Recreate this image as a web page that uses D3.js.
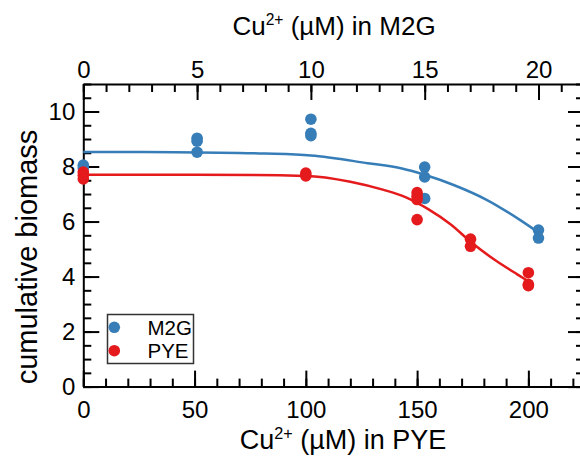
<!DOCTYPE html>
<html>
<head>
<meta charset="utf-8">
<script src="https://cdn.jsdelivr.net/npm/d3@7"></script>
<style>
  html, body { margin: 0; padding: 0; background: #fff; }
  svg { display: block; font-family: "Liberation Sans", Arial, sans-serif; }
</style>
</head>
<body>
<svg id="chart" width="580" height="460"></svg>
<script>
// Cumulative biomass versus copper concentration in two media.
// M2G values sit on the top axis, PYE values on the bottom axis.

// M2G measurements (Cu2+ in µM, top axis)
const m2gConc    = [0, 0, 5, 5, 5, 10, 10, 10, 15, 15, 15, 20, 20];
const m2gBiomass = [8.05, 7.95, 9.03, 8.92, 8.52, 9.72, 9.21, 9.12, 7.98, 7.62, 6.84, 5.69, 5.40];

// PYE measurements (Cu2+ in µM, bottom axis)
const pyeConc    = [0, 0, 0, 100, 100, 150, 150, 150, 150, 174, 174, 200, 200, 200];
const pyeBiomass = [7.80, 7.68, 7.55, 7.76, 7.66, 7.05, 6.92, 6.80, 6.07, 5.36, 5.10, 4.14, 3.72, 3.67];

// Fitted dose-response curves
const m2gFitConc    = [0, 4, 8, 10, 12.5, 14, 15, 16.3, 17.7, 19.2, 20];
const m2gFitBiomass = [8.53, 8.52, 8.47, 8.40, 8.12, 7.93, 7.70, 7.32, 6.80, 6.05, 5.60];
const pyeFitConc    = [0, 50, 100, 120, 135, 145, 155, 165, 175, 185, 195, 200];
const pyeFitBiomass = [7.70, 7.70, 7.66, 7.45, 7.15, 6.88, 6.45, 5.90, 5.20, 4.60, 4.08, 3.83];

// Axis ticks
const pyeMajorTicks = [0, 50, 100, 150, 200];
const pyeMinorTicks = d3.range(0, 230, 10);
const m2gMajorTicks = [0, 5, 10, 15, 20];
const m2gMinorTicks = d3.range(0, 23, 1);
const yMajorTicks   = [0, 2, 4, 6, 8, 10];
const yMinorTicks   = d3.range(0, 11.01, 0.5);

const seriesNames  = ["M2G", "PYE"];
const seriesColors = ["#377eb8", "#e41a1c"];

const svg = d3.select("#chart");
const plotLeft = 83.3, plotRight = 584, plotTop = 84, plotBottom = 386.6;

const xPye = d3.scaleLinear().domain([0, 225]).range([plotLeft, plotRight]);
const xM2g = d3.scaleLinear().domain([0, 22]).range([plotLeft, plotRight]);
const y    = d3.scaleLinear().domain([0, 11]).range([plotBottom, plotTop]);

const tickFont = 24;

function styleAxis(g) {
  g.selectAll("path.domain").attr("stroke", "#000").attr("stroke-width", 2);
  g.selectAll(".tick line").attr("stroke", "#000").attr("stroke-width", 2);
  g.selectAll(".tick text").attr("fill", "#000").attr("font-size", tickFont)
    .attr("font-family", "Liberation Sans, Arial, sans-serif");
}

// Minor ticks (drawn first, without domain lines)
const minorLen = 8;
svg.append("g").attr("transform", `translate(0,${plotBottom})`)
  .call(d3.axisBottom(xPye).tickValues(pyeMinorTicks).tickSize(-minorLen).tickFormat(""))
  .call(styleAxis).call(g => g.select(".domain").remove());
svg.append("g").attr("transform", `translate(0,${plotTop})`)
  .call(d3.axisTop(xM2g).tickValues(m2gMinorTicks).tickSize(-minorLen).tickFormat(""))
  .call(styleAxis).call(g => g.select(".domain").remove());
svg.append("g").attr("transform", `translate(${plotLeft},0)`)
  .call(d3.axisLeft(y).tickValues(yMinorTicks).tickSize(-minorLen).tickFormat(""))
  .call(styleAxis).call(g => g.select(".domain").remove());
svg.append("g").attr("transform", `translate(${plotRight},0)`)
  .call(d3.axisRight(y).tickValues(yMinorTicks).tickSize(-minorLen).tickFormat(""))
  .call(styleAxis).call(g => g.select(".domain").remove());

// Major ticks with labels and the frame
const majorLen = 16;
svg.append("g").attr("transform", `translate(0,${plotBottom})`)
  .call(d3.axisBottom(xPye).tickValues(pyeMajorTicks).tickSizeInner(-majorLen).tickSizeOuter(0).tickPadding(14))
  .call(styleAxis);
svg.append("g").attr("transform", `translate(0,${plotTop})`)
  .call(d3.axisTop(xM2g).tickValues(m2gMajorTicks).tickSizeInner(-majorLen).tickSizeOuter(0).tickPadding(6))
  .call(styleAxis);
svg.append("g").attr("transform", `translate(${plotLeft},0)`)
  .call(d3.axisLeft(y).tickValues(yMajorTicks).tickSizeInner(-majorLen).tickSizeOuter(0).tickPadding(8))
  .call(styleAxis);
svg.append("g").attr("transform", `translate(${plotRight},0)`)
  .call(d3.axisRight(y).tickValues(yMajorTicks).tickSizeInner(-majorLen).tickSizeOuter(0).tickFormat(""))
  .call(styleAxis);

// Fitted curves
const m2gLine = d3.line().x(d => xM2g(d[0])).y(d => y(d[1])).curve(d3.curveMonotoneX);
const pyeLine = d3.line().x(d => xPye(d[0])).y(d => y(d[1])).curve(d3.curveMonotoneX);

svg.append("path")
  .datum(d3.zip(m2gFitConc, m2gFitBiomass))
  .attr("d", m2gLine).attr("fill", "none")
  .attr("stroke", seriesColors[0]).attr("stroke-width", 2.5);
svg.append("path")
  .datum(d3.zip(pyeFitConc, pyeFitBiomass))
  .attr("d", pyeLine).attr("fill", "none")
  .attr("stroke", seriesColors[1]).attr("stroke-width", 2.5);

// Measured points
const r = 5.8;
svg.append("g").selectAll("circle")
  .data(d3.zip(m2gConc, m2gBiomass)).join("circle")
  .attr("cx", d => xM2g(d[0])).attr("cy", d => y(d[1])).attr("r", r)
  .attr("fill", seriesColors[0]);
svg.append("g").selectAll("circle")
  .data(d3.zip(pyeConc, pyeBiomass)).join("circle")
  .attr("cx", d => xPye(d[0])).attr("cy", d => y(d[1])).attr("r", r)
  .attr("fill", seriesColors[1]);

// Axis titles
function cuTitle(sel, medium) {
  sel.append("tspan").text("Cu");
  sel.append("tspan").text("2+").attr("font-size", "0.6em").attr("dy", "-0.62em");
  sel.append("tspan").text(` (µM) in ${medium}`).attr("dy", "0.372em");
}
svg.append("text")
  .attr("x", 334).attr("y", 35).attr("text-anchor", "middle")
  .attr("font-size", 26).attr("fill", "#000")
  .call(cuTitle, "M2G");
svg.append("text")
  .attr("x", 343).attr("y", 449).attr("text-anchor", "middle")
  .attr("font-size", 27).attr("fill", "#000")
  .call(cuTitle, "PYE");
svg.append("text")
  .attr("transform", "translate(37,257) rotate(-90)")
  .attr("text-anchor", "middle").attr("font-size", 29).attr("fill", "#000")
  .text("cumulative biomass");

// Legend
const legend = svg.append("g");
legend.append("rect")
  .attr("x", 107.5).attr("y", 314.5).attr("width", 86).attr("height", 49)
  .attr("fill", "#fff").attr("stroke", "#333").attr("stroke-width", 1.5);
seriesNames.forEach((name, i) => {
  const cy = 327.3 + i * 23.4;
  legend.append("circle").attr("cx", 114.3).attr("cy", cy).attr("r", r).attr("fill", seriesColors[i]);
  legend.append("text").attr("x", 147.5).attr("y", cy + 7.5)
    .attr("font-size", 20.5).attr("fill", "#000").text(name);
});
</script>
</body>
</html>
